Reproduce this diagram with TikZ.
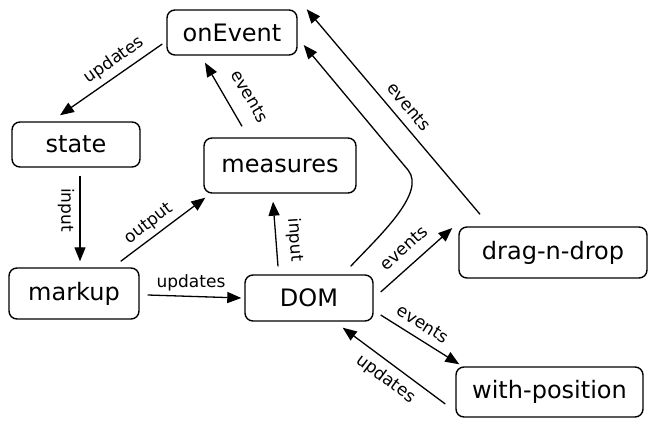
\documentclass[tikz,border=0pt]{standalone}
\usepackage{fontspec}
\setmainfont{DejaVu Sans}
\usetikzlibrary{arrows.meta,calc}
\begin{document}
\begin{tikzpicture}[x=1pt,y=-1pt,
  box/.style={draw, line width=1.4pt, rounded corners=8pt, inner sep=0pt,
    font=\fontsize{24}{27}\selectfont},
  conn/.style={line width=1.3pt, -{Triangle[length=14pt,width=11pt]}},
  lbl/.style={font=\fontsize{17}{19}\selectfont, inner sep=0pt}]
\useasboundingbox (0,0) rectangle (656,427);
% nodes
\node[box, minimum width=130pt, minimum height=45pt] (onEvent) at (232,32.5) {onEvent};
\node[box, minimum width=128pt, minimum height=45pt] (state) at (76,144.5) {state};
\node[box, minimum width=152pt, minimum height=55pt] (measures) at (280,165.5) {measures};
\node[box, minimum width=130pt, minimum height=51pt] (markup) at (74,293.5) {markup};
\node[box, minimum width=128pt, minimum height=46pt] (DOM) at (309,298) {DOM};
\node[box, minimum width=188pt, minimum height=51pt] (drag) at (553,252.5) {drag-n-drop};
\node[box, minimum width=187pt, minimum height=50pt] (withpos) at (549.5,392) {with-position};
% connectors
\draw[conn] ($(onEvent.west)+(-4,11.5)$) -- ($(state.north)+(-16,-6)$);
\draw[conn] ($(measures.north)+(-38,-11)$) -- ($(onEvent.south)+(-27,7)$);
\draw[conn] ($(state.south)+(4,8)$) -- ($(markup.north)+(6,-6)$);
\draw[conn] ($(markup.north east)+(-19,-6)$) -- ($(measures.south west)+(2,4)$);
\draw[conn] ($(DOM.north)+(-31,-8)$) -- ($(measures.south)+(-7,8)$);
\draw[conn] ($(markup.east)+(8,1.5)$) -- ($(DOM.west)+(-3,0)$);
\draw[conn] ($(DOM.north east)+(-23,-8)$) .. controls (377,238) and (427,193) .. (408,170) -- ($(onEvent.east)+(6,12.5)$);
\draw[conn] ($(drag.north)+(-73,-12)$) -- ($(onEvent.north east)+(9,0)$);
\draw[conn] ($(DOM.east)+(7,-6)$) -- ($(drag.west)+(-6,-24.5)$);
\draw[conn] ($(DOM.east)+(7,17)$) -- ($(withpos.north west)+(4,-2)$);
\draw[conn] ($(withpos.west)+(-10,12)$) -- ($(DOM.south east)+(-31,6)$);
% labels
\node[lbl, rotate=35] (l1) at (114,60) {updates};
\node[lbl, rotate=-60] (l2) at (250,96) {events};
\node[lbl, rotate=-90] (l3) at (66,210) {input};
\node[lbl, rotate=37] (l4) at (149,224) {output};
\node[lbl, rotate=-86] (l5) at (295,240) {input};
\node[lbl] (l6) at (191,283) {updates};
\node[lbl, rotate=-50] (l7) at (409,107) {events};
\node[lbl, rotate=42] (l8) at (404,248) {events};
\node[lbl, rotate=-32] (l9) at (423,324) {events};
\node[lbl, rotate=-37] (l10) at (386,379) {updates};
\end{tikzpicture}
\end{document}
